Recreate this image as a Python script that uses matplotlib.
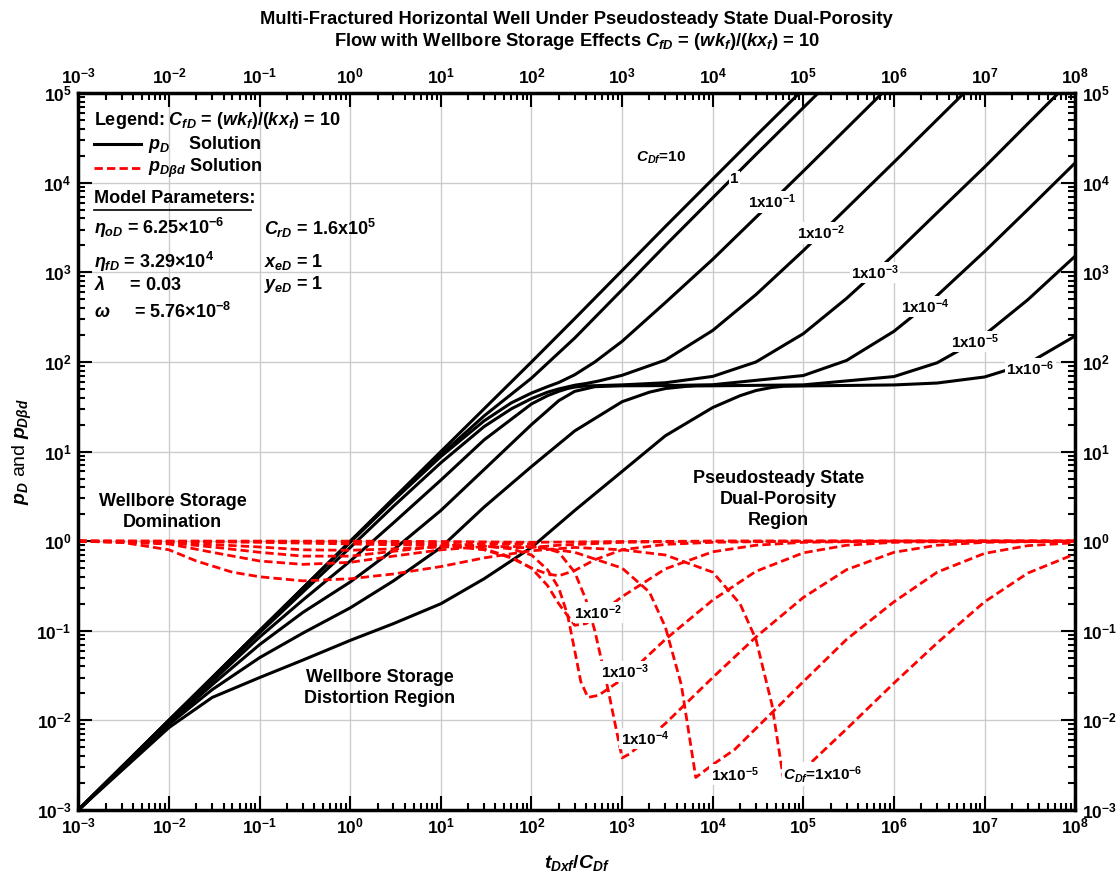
import numpy as np
import matplotlib
matplotlib.use("Agg")
import matplotlib.pyplot as plt
from matplotlib.ticker import FixedLocator, FuncFormatter, NullFormatter

plt.rcParams['font.family'] = ['Liberation Sans', 'DejaVu Sans']
plt.rcParams['font.weight'] = 'bold'
plt.rcParams['mathtext.fontset'] = 'custom'
plt.rcParams['mathtext.rm'] = 'Liberation Sans:bold'
plt.rcParams['mathtext.it'] = 'Liberation Sans:bold:italic'
plt.rcParams['mathtext.bf'] = 'Liberation Sans:bold'

"""valeurs lues sur le graphe (x = tDxf/CDf)"""

# solution pD (noir), CDf = 10, 1, 1e-1 ... 1e-6
pd_c10_t = [1e-3, 1e-1, 1e0, 1e1, 3e1, 1e2, 3e2, 1e3, 3e3, 1e4, 3e4, 9e4]
pd_c10 = [1e-3, 1e-1, 1e0, 1e1, 3e1, 1e2, 3.05e2, 1.05e3, 3.25e3, 1.1e4, 3.35e4, 1e5]
pd_c1_t = [1e-3, 1e-1, 1e0, 3e0, 1e1, 3e1, 1e2, 3e2, 1e3, 3e3, 1e4, 3e4, 1e5, 1.45e5]
pd_c1 = [1e-3, 1e-1, 9.9e-1, 2.9e0, 9.2e0, 2.5e1, 6.6e1, 1.85e2, 6.4e2, 2e3, 6.8e3, 2.07e4, 6.9e4, 1e5]
pd_c01_t = [1e-3, 1e-1, 1e0, 3e0, 1e1, 3e1, 6e1, 1e2, 1.5e2, 2e2, 3e2, 5e2, 1e3, 3e3, 1e4, 4.47e4, 1e5, 3e5, 7.4e5]
pd_c01 = [1e-3, 1e-1, 9.7e-1, 2.85e0, 8.8e0, 2.2e1, 3.5e1, 4.5e1, 5.3e1, 5.9e1, 7.2e1, 1e2, 1.7e2, 4.6e2, 1.4e3, 6.1e3, 1.35e4, 4.05e4, 1e5]
pd_c2_t = [1e-3, 1e-2, 1e-1, 1e0, 3e0, 1e1, 3e1, 6e1, 1e2, 1.5e2, 2e2, 3e2, 4e2, 5.4e2, 1e3, 3e3, 1e4, 3e4, 1e5, 1.58e5, 1e6, 5.9e6]
pd_c2 = [1e-3, 1e-2, 9.5e-2, 8.5e-1, 2.45e0, 7.5e0, 1.9e1, 3e1, 3.9e1, 4.6e1, 5e1, 5.5e1, 5.75e1, 6.1e1, 7.1e1, 1.05e2, 2.25e2, 5.65e2, 1.75e3, 2.75e3, 1.7e4, 1e5]
pd_c3_t = [1e-3, 1e-2, 1e-1, 3e-1, 1e0, 3e0, 1e1, 3e1, 1e2, 1.5e2, 2e2, 2.5e2, 3e2, 4e2, 1e3, 3e3, 1e4, 3e4, 1e5, 3e5, 6.2e5, 1e6, 3e6, 1e7, 6.5e7]
pd_c3 = [1e-3, 9.7e-3, 8.5e-2, 2.2e-1, 6e-1, 1.6e0, 4.8e0, 1.35e1, 3.4e1, 4.2e1, 4.7e1, 5.05e1, 5.25e1, 5.4e1, 5.55e1, 5.86e1, 6.9e1, 1e2, 2.07e2, 5.13e2, 1e3, 1.58e3, 4.64e3, 1.5e4, 1e5]
pd_c4_t = [1e-3, 1e-2, 3e-2, 1e-1, 3e-1, 1e0, 3e0, 1e1, 3e1, 1e2, 2e2, 3e2, 5e2, 1e3, 3e3, 1e4, 1e5, 3e5, 1e6, 2.19e6, 3e6, 1e7, 3e7, 1e8]
pd_c4 = [1e-3, 9.3e-3, 2.5e-2, 7e-2, 1.6e-1, 3.5e-1, 8e-1, 2.2e0, 6.3e0, 2e1, 3.7e1, 4.7e1, 5.3e1, 5.42e1, 5.45e1, 5.57e1, 7.06e1, 1.04e2, 2.2e2, 4.17e2, 5.52e2, 1.71e3, 5.03e3, 1.67e4]
pd_c5_t = [1e-3, 1e-2, 3e-2, 1e-1, 3e-1, 1e0, 3e0, 1e1, 3e1, 1e2, 3e2, 1e3, 2e3, 3e3, 5e3, 6.5e3, 1e4, 1e5, 1e6, 3e6, 7.9e6, 1e7, 3e7, 1e8]
pd_c5 = [1e-3, 9e-3, 2.2e-2, 5e-2, 9.4e-2, 1.8e-1, 3.6e-1, 8.5e-1, 2.4e0, 6.8e0, 1.7e1, 3.6e1, 4.6e1, 5.05e1, 5.33e1, 5.4e1, 5.42e1, 5.55e1, 6.87e1, 9.8e1, 1.7e2, 2.01e2, 4.95e2, 1.52e3]
pd_c6_t = [1e-3, 1e-2, 3e-2, 1e-1, 3e-1, 1e0, 3e0, 1e1, 3e1, 1e2, 3e2, 1e3, 3e3, 1e4, 2e4, 3e4, 4.5e4, 6e4, 1e5, 1e6, 3e6, 1e7, 3e7, 1e8]
pd_c6 = [1e-3, 8.3e-3, 1.8e-2, 3e-2, 4.7e-2, 7.8e-2, 1.2e-1, 2e-1, 3.8e-1, 8.5e-1, 2.2e0, 6e0, 1.5e1, 3.1e1, 4.2e1, 4.8e1, 5.2e1, 5.35e1, 5.4e1, 5.54e1, 5.82e1, 6.8e1, 9.6e1, 1.95e2]

# solution pDbd (rouge)
bd_c10_t = [1e-3, 1e0, 1e1, 1e2, 1e3, 1e4, 1e8]
bd_c10 = [1.0, 1.0, 0.99, 0.97, 0.99, 1.0, 1.0]
bd_c1_t = [1e-3, 1e0, 3e0, 1e1, 3e1, 6e1, 1e2, 2e2, 1e3, 1e4, 1e8]
bd_c1 = [1.0, 0.99, 0.97, 0.94, 0.88, 0.84, 0.85, 0.9, 0.97, 1.0, 1.0]
bd_c01_t = [1e-3, 1e0, 3e0, 1e1, 3e1, 6e1, 1e2, 1.5e2, 2e2, 3e2, 5e2, 1e3, 3e3, 1e4, 1e5, 1e8]
bd_c01 = [1.0, 0.98, 0.96, 0.9, 0.8, 0.65, 0.5, 0.43, 0.41, 0.47, 0.62, 0.8, 0.92, 0.97, 1.0, 1.0]
bd_c2_t = [1e-3, 1e-2, 1e-1, 1e0, 3e0, 1e1, 3e1, 6e1, 1e2, 1.5e2, 2e2, 3e2, 4e2, 5.4e2, 1e3, 3e3, 1e4, 3e4, 1e5, 1e6, 1e8]
bd_c2 = [1.0, 0.99, 0.97, 0.93, 0.91, 0.9, 0.82, 0.66, 0.5, 0.32, 0.2, 0.115, 0.12, 0.15, 0.24, 0.49, 0.76, 0.9, 0.97, 1.0, 1.0]
bd_c3_t = [1e-3, 1e-2, 1e-1, 3e-1, 1e0, 3e0, 1e1, 3e1, 6e1, 1e2, 1.5e2, 2e2, 2.5e2, 3e2, 3.5e2, 4.2e2, 5.5e2, 1.07e3, 3e3, 1e4, 3e4, 1e5, 3e5, 1e6, 1e7, 1e8]
bd_c3 = [1.0, 0.97, 0.86, 0.8, 0.79, 0.82, 0.86, 0.88, 0.82, 0.7, 0.48, 0.3, 0.15, 0.06, 0.027, 0.018, 0.019, 0.03, 0.08, 0.22, 0.46, 0.74, 0.9, 0.97, 1.0, 1.0]
bd_c4_t = [1e-3, 1e-2, 3e-2, 1e-1, 3e-1, 1e0, 3e0, 1e1, 3e1, 1e2, 2e2, 3e2, 4e2, 5e2, 7e2, 1e3, 1.2e3, 1.78e3, 3e3, 1e4, 3e4, 1e5, 3e5, 1e6, 3e6, 1e7, 1e8]
bd_c4 = [1.0, 0.96, 0.86, 0.75, 0.68, 0.68, 0.77, 0.88, 0.94, 0.93, 0.75, 0.45, 0.22, 0.1, 0.022, 0.0038, 0.0042, 0.0058, 0.0092, 0.03, 0.085, 0.235, 0.48, 0.75, 0.9, 0.97, 1.0]
bd_c5_t = [1e-3, 1e-2, 3e-2, 1e-1, 3e-1, 1e0, 3e0, 1e1, 3e1, 1e2, 3e2, 1e3, 2e3, 3e3, 4.5e3, 6.5e3, 1e4, 1.74e4, 1e5, 3e5, 1e6, 3e6, 1e7, 3e7, 1e8]
bd_c5 = [1.0, 0.93, 0.75, 0.6, 0.55, 0.58, 0.68, 0.8, 0.87, 0.87, 0.75, 0.5, 0.27, 0.11, 0.025, 0.0023, 0.0032, 0.0047, 0.027, 0.08, 0.21, 0.45, 0.73, 0.89, 0.96]
bd_c6_t = [1e-3, 3e-3, 1e-2, 2e-2, 5e-2, 1e-1, 3e-1, 1e0, 3e0, 1e1, 3e1, 1e2, 3e2, 1e3, 3e3, 1e4, 2e4, 3e4, 4.5e4, 6e4, 8e4, 1e5, 3e5, 1e6, 3e6, 1e7, 3e7, 1e8]
bd_c6 = [1.0, 0.97, 0.8, 0.6, 0.45, 0.4, 0.36, 0.38, 0.43, 0.52, 0.65, 0.78, 0.85, 0.8, 0.7, 0.45, 0.2, 0.08, 0.015, 0.0023, 0.0025, 0.0028, 0.008, 0.026, 0.073, 0.21, 0.44, 0.72]

pd_curves = [(pd_c10_t, pd_c10), (pd_c1_t, pd_c1), (pd_c01_t, pd_c01), (pd_c2_t, pd_c2),
             (pd_c3_t, pd_c3), (pd_c4_t, pd_c4), (pd_c5_t, pd_c5), (pd_c6_t, pd_c6)]
bd_curves = [(bd_c10_t, bd_c10), (bd_c1_t, bd_c1), (bd_c01_t, bd_c01), (bd_c2_t, bd_c2),
             (bd_c3_t, bd_c3), (bd_c4_t, bd_c4), (bd_c5_t, bd_c5), (bd_c6_t, bd_c6)]

x_decades = [10.0 ** k for k in range(-3, 9)]
y_decades = [10.0 ** k for k in range(-3, 6)]


def sup10(v, pos):
    e = int(round(np.log10(v)))
    return r'$\mathregular{10^{%d}}$' % e


fig = plt.figure(figsize=(11.2, 8.88), dpi=100)
ax = fig.add_axes([0.070, 0.088, 0.890, 0.807])

for t, p in pd_curves:
    ax.plot(t, p, color='black', lw=2.2, solid_joinstyle='round')
for t, p in bd_curves:
    ax.plot(t, p, color='red', lw=2.0, ls=(0, (3, 1.5)))

ax.set_xscale('log')
ax.set_yscale('log')
ax.set_xlim(1e-3, 1e8)
ax.set_ylim(1e-3, 1e5)

xminor = [m * d for d in x_decades[:-1] for m in range(2, 10)]
yminor = [m * d for d in y_decades[:-1] for m in range(2, 10)]
ax.xaxis.set_major_locator(FixedLocator(x_decades))
ax.yaxis.set_major_locator(FixedLocator(y_decades))
ax.xaxis.set_minor_locator(FixedLocator(xminor))
ax.yaxis.set_minor_locator(FixedLocator(yminor))
ax.xaxis.set_major_formatter(FuncFormatter(sup10))
ax.yaxis.set_major_formatter(FuncFormatter(sup10))
ax.xaxis.set_minor_formatter(NullFormatter())
ax.yaxis.set_minor_formatter(NullFormatter())
ax.tick_params(which='both', direction='in', top=True, right=True,
               labeltop=True, labelright=True, labelsize=12.5, width=1.5)
ax.tick_params(which='major', length=10, pad=5)
ax.tick_params(which='minor', length=5)
ax.grid(True, which='major', color='#cccccc', lw=1.0)
for s in ax.spines.values():
    s.set_linewidth(2.5)

ax.set_xlabel(r'$\mathit{t_{Dxf}/C_{Df}}$', fontsize=14, labelpad=12)
ax.set_ylabel(r'$\mathit{p_D}$ and $\mathit{p_{D\beta d}}$', fontsize=14, labelpad=2)
fig.suptitle("Multi-Fractured Horizontal Well Under Pseudosteady State Dual-Porosity\n"
             r"Flow with Wellbore Storage Effects $\mathit{C_{fD}}$ = ($\mathit{wk_f}$)/($\mathit{kx_f}$) = 10",
             x=0.515, y=0.988, fontsize=13.2, fontweight='bold', linespacing=1.2)

# legende
fs = 13
ax.text(1.47e-3, 4.9e4, r'Legend: $\mathit{C_{fD}}$ = ($\mathit{wk_f}$)/($\mathit{kx_f}$) = 10', fontsize=fs, va='center')
ax.plot([1.47e-3, 4.9e-3], [2.7e4, 2.7e4], color='black', lw=2.2)
ax.text(5.9e-3, 2.7e4, r'$\mathit{p_D}$    Solution', fontsize=fs, va='center')
ax.plot([1.47e-3, 4.9e-3], [1.46e4, 1.46e4], color='red', lw=2.0, ls=(0, (3, 1.5)))
ax.text(5.9e-3, 1.46e4, r'$\mathit{p_{D\beta d}}$ Solution', fontsize=fs, va='center')
ax.text(1.47e-3, 6.6e3, 'Model Parameters:', fontsize=fs, va='center')
ax.plot([1.47e-3, 8.0e-2], [5.0e3, 5.0e3], color='black', lw=1.2)
ax.text(1.47e-3, 3.1e3, r'$\mathit{\eta_{oD}}$ = 6.25×10$^{-6}$', fontsize=fs, va='center')
ax.text(1.47e-3, 1.3e3, r'$\mathit{\eta_{fD}}$ = 3.29×10$^{4}$', fontsize=fs, va='center')
ax.text(1.47e-3, 7.3e2, r'$\mathit{\lambda}$     = 0.03', fontsize=fs, va='center')
ax.text(1.47e-3, 3.6e2, r'$\mathit{\omega}$     = 5.76×10$^{-8}$', fontsize=fs, va='center')
ax.text(1.11e-1, 3.1e3, r'$\mathit{C_{rD}}$ = 1.6x10$^{5}$', fontsize=fs, va='center')
ax.text(1.11e-1, 1.3e3, r'$\mathit{x_{eD}}$ = 1', fontsize=fs, va='center')
ax.text(1.11e-1, 7.3e2, r'$\mathit{y_{eD}}$ = 1', fontsize=fs, va='center')

# regions
ax.text(1.1e-2, 2.1, 'Wellbore Storage\nDomination', fontsize=fs, ha='center', va='center', linespacing=1.3)
ax.text(5.3e4, 2.9, 'Pseudosteady State\nDual-Porosity\nRegion', fontsize=fs, ha='center', va='center', linespacing=1.3)
ax.text(2.1e0, 2.3e-2, 'Wellbore Storage\nDistortion Region', fontsize=fs, ha='center', va='center', linespacing=1.3)

# etiquettes des courbes (fond blanc, posees sur les courbes)
fl = 11
box = dict(facecolor='white', edgecolor='none', pad=1.0)
ax.text(2.7e3, 1.9e4, r'$\mathit{C_{Df}}$=10', fontsize=fl, ha='center', va='center')
ax.text(1.74e4, 1.1e4, '1', fontsize=fl, ha='center', va='center', bbox=box)
ax.text(4.47e4, 6.1e3, r'1x10$^{-1}$', fontsize=fl, ha='center', va='center', bbox=box)
ax.text(1.58e5, 2.75e3, r'1x10$^{-2}$', fontsize=fl, ha='center', va='center', bbox=box)
ax.text(6.2e5, 1.0e3, r'1x10$^{-3}$', fontsize=fl, ha='center', va='center', bbox=box)
ax.text(2.19e6, 4.17e2, r'1x10$^{-4}$', fontsize=fl, ha='center', va='center', bbox=box)
ax.text(7.9e6, 1.7e2, r'1x10$^{-5}$', fontsize=fl, ha='center', va='center', bbox=box)
ax.text(3.2e7, 8.5e1, r'1x10$^{-6}$', fontsize=fl, ha='center', va='center', bbox=box)

ax.text(5.4e2, 1.6e-1, r'1x10$^{-2}$', fontsize=fl, ha='center', va='center', bbox=box)
ax.text(1.07e3, 3.5e-2, r'1x10$^{-3}$', fontsize=fl, ha='center', va='center', bbox=box)
ax.text(1.78e3, 6.3e-3, r'1x10$^{-4}$', fontsize=fl, ha='center', va='center', bbox=box)
ax.text(1.74e4, 2.5e-3, r'1x10$^{-5}$', fontsize=fl, ha='center', va='center', bbox=box)
ax.text(1.65e5, 2.5e-3, r'$\mathit{C_{Df}}$=1x10$^{-6}$', fontsize=fl, ha='center', va='center', bbox=box)

fig.savefig('out.png', dpi=100)
